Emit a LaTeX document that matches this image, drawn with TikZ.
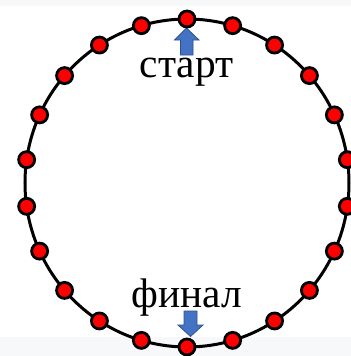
\documentclass[tikz,border=0pt]{standalone}
\usepackage{fontspec}
\setmainfont{Liberation Serif}
\definecolor{bandgray}{HTML}{F6F8FA}
\definecolor{arrowblue}{HTML}{4472C4}
\definecolor{arrowedge}{HTML}{2F528F}
\begin{document}
\begin{tikzpicture}[x=1bp,y=-1bp,
  dot/.style={circle,fill=red,draw=black,line width=2.8bp,minimum size=16bp,inner sep=0pt},
  ring/.style={draw=black,line width=3bp},
  blockarrow/.style={fill=arrowblue,draw=arrowedge,line width=0.8bp,line join=miter},
  label/.style={font=\fontsize{41.5}{42}\selectfont,inner sep=0pt,anchor=base}]
\fill[bandgray] (0,0) rectangle (351,356);
\fill[white] (0,6) rectangle (351,337);
\useasboundingbox (0,0) rectangle (351,356);
\coordinate (c) at (187,183);
\draw[ring] (c) ellipse [x radius=162, y radius=164];
% arrows
\draw[blockarrow] (186.5,28) -- (199,40) -- (193,40) -- (193,55) -- (180.5,55) -- (180.5,40) -- (174.5,40) -- cycle;
\draw[blockarrow] (190.5,336.5) -- (203,325) -- (197,325) -- (197,311) -- (184,311) -- (184,325) -- (178,325) -- cycle;
% labels
\node[label] (start) at (186.5,77) {старт};
\node[label] (final) at (187,307) {финал};
% dots
\foreach \i in {0,...,21}{
  \node[dot] (d\i) at ({187+162*cos(90-\i*360/22)},{183-164*sin(90-\i*360/22)}) {};
}
\end{tikzpicture}
\end{document}
